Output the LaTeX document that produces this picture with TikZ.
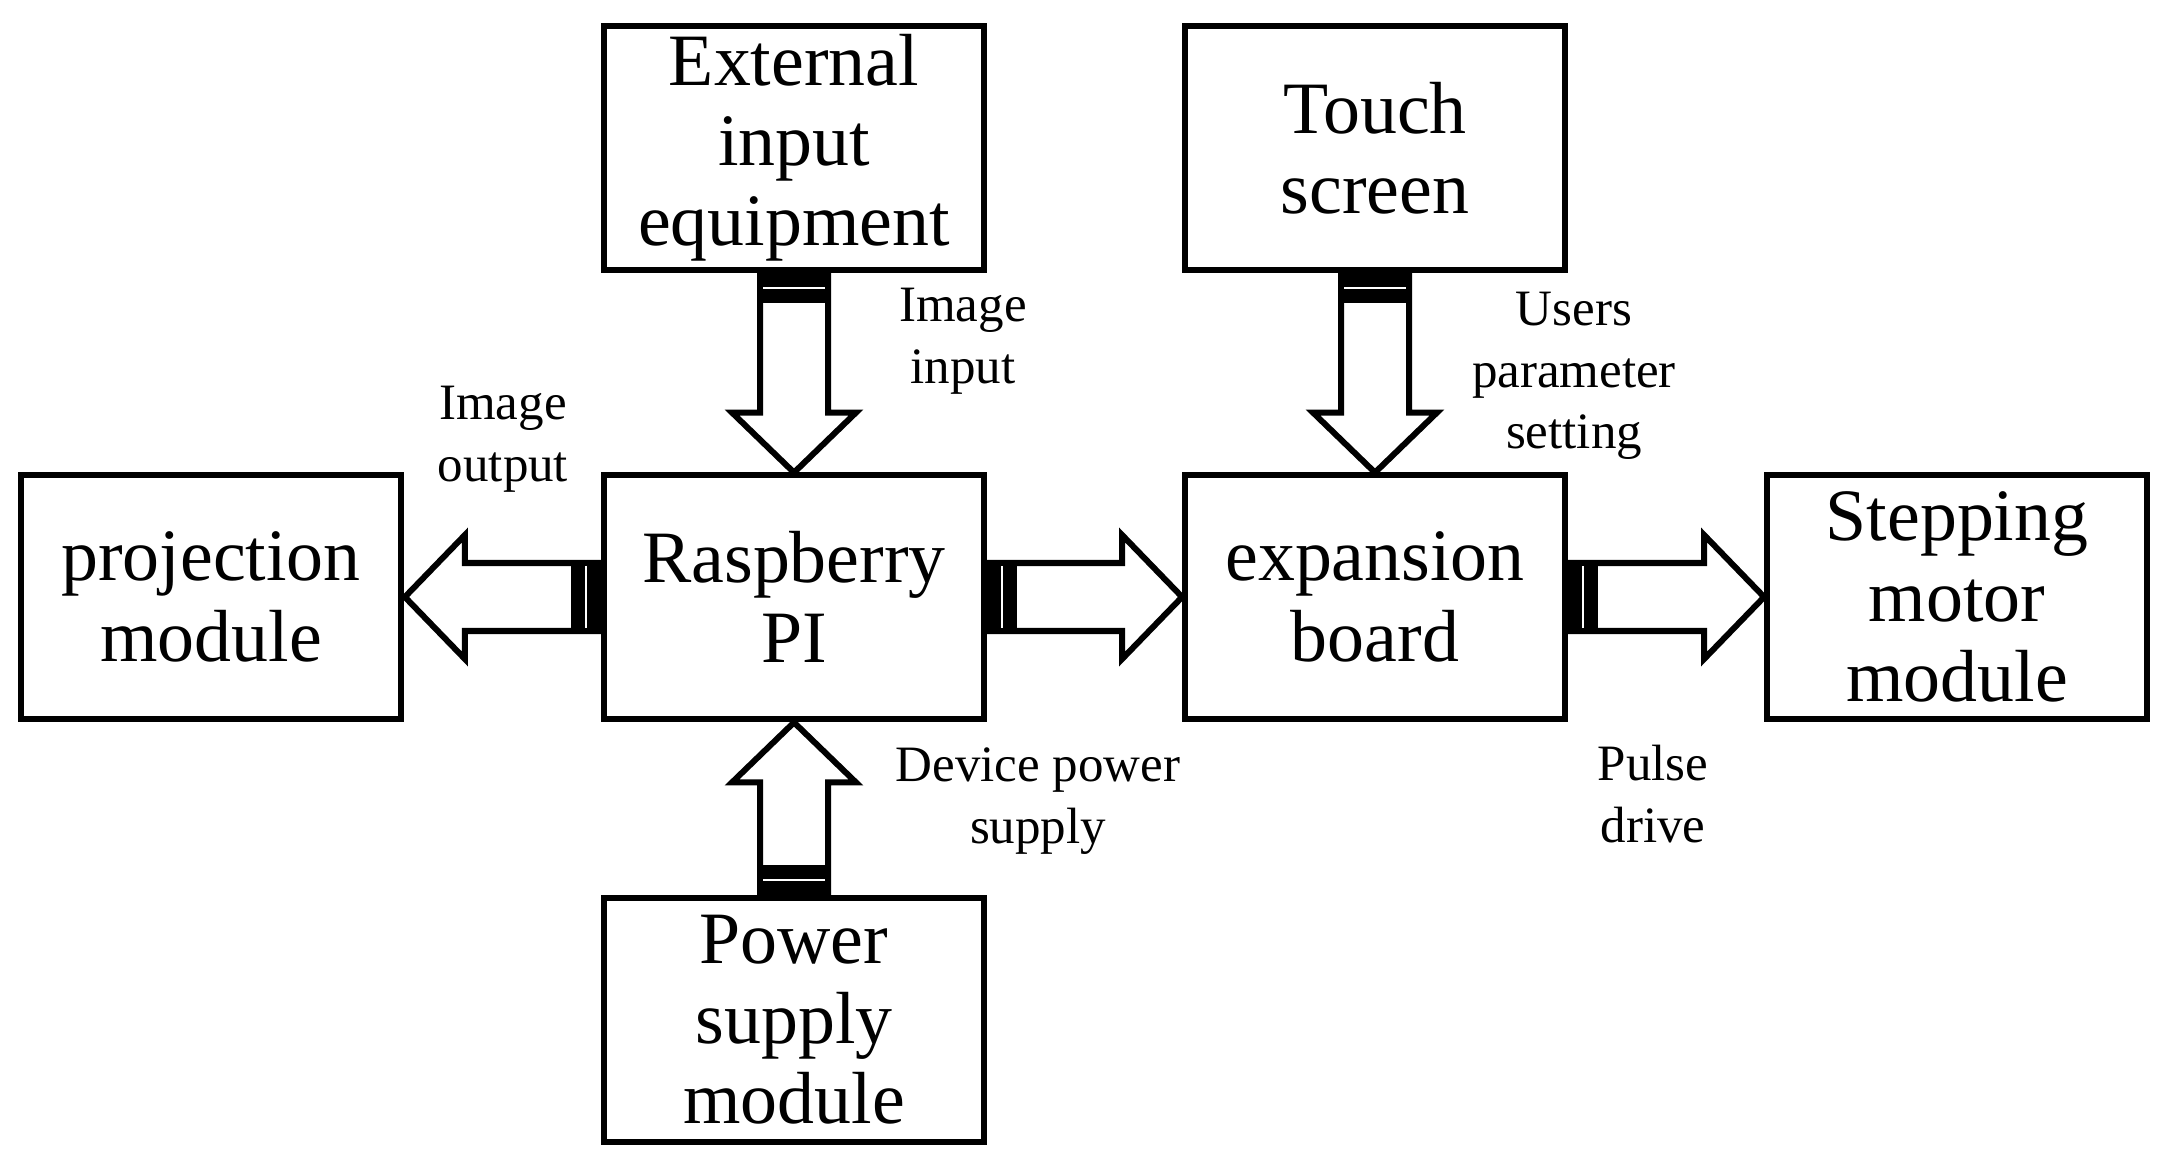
\documentclass[tikz,border=0pt]{standalone}
\usepackage{fontspec}
\setmainfont{Liberation Serif}
\begin{document}
\begin{tikzpicture}[x=0.01cm,y=0.01cm,
  box/.style={draw,line width=0.06cm,minimum width=3.8cm,minimum height=2.43cm,align=center,inner sep=0pt,font=\fontsize{21}{22.8}\selectfont},
  lab/.style={align=center,font=\fontsize{14.5}{17.5}\selectfont}]
\useasboundingbox (0,0) rectangle (2165,-1170);
\newcommand\blockarrow[3]{%
 \begin{scope}[shift={(#1)},rotate=#2]
  \draw[line width=0.06cm,line join=miter] (0,-34)--(#3-60,-34)--(#3-60,-62)--(#3,0)--(#3-60,62)--(#3-60,34)--(0,34)--cycle;
  \fill (0,-37) rectangle (30,37);
  \draw[white,line width=0.02cm] (15,-31)--(15,31);
 \end{scope}}
\node[box] (ext) at (794,-148) {External\\input\\equipment};
\node[box] (touch) at (1375,-148) {Touch\\screen};
\node[box] (proj) at (211,-597) {projection\\module};
\node[box] (rpi) at (794,-597) {Raspberry\\PI};
\node[box] (exp) at (1375,-597) {expansion\\board};
\node[box] (step) at (1957,-597) {Stepping\\motor\\module};
\node[box] (pow) at (794,-1020) {Power\\supply\\module};
\blockarrow{ext.south}{-90}{200}
\blockarrow{touch.south}{-90}{200}
\blockarrow{pow.north}{90}{173}
\blockarrow{rpi.west}{180}{196}
\blockarrow{rpi.east}{0}{195}
\blockarrow{exp.east}{0}{196}
\node[lab] (l1) at (963,-341) {Image\\input};
\node[lab] (l2) at (503,-439) {Image\\output};
\node[lab] (l3) at (1574,-376) {Users\\parameter\\setting};
\node[lab] (l4) at (1038,-801) {Device power\\supply};
\node[lab] (l5) at (1653,-794) {Pulse\\drive};
\end{tikzpicture}
\end{document}
